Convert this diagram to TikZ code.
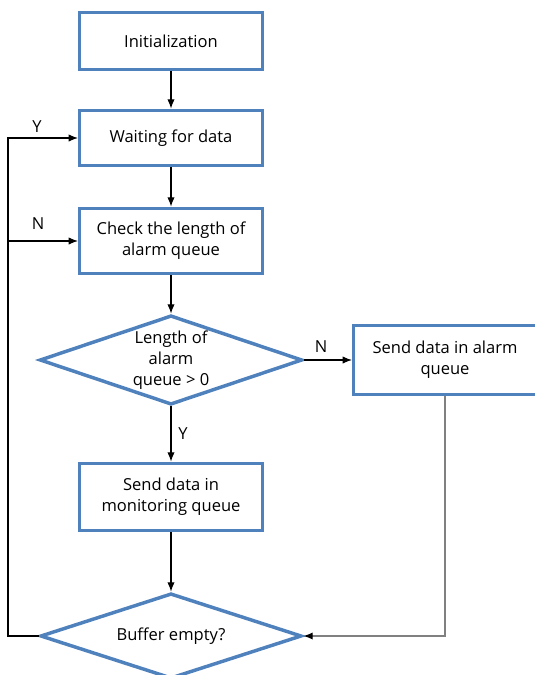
\documentclass[tikz,border=0pt]{standalone}
\usepackage{fontspec}
\setmainfont{Open Sans}
\usetikzlibrary{shapes.geometric,arrows.meta}
\definecolor{boxblue}{RGB}{79,129,189}
\definecolor{linegray}{RGB}{128,128,128}

\begin{document}
\begin{tikzpicture}[x=0.75pt, y=-0.75pt,
  every node/.style={font=\fontsize{12.4}{15.7}\selectfont, align=center},
  proc/.style={rectangle, draw=boxblue, line width=2.6pt, minimum width=137pt},
  decide/.style={diamond, draw=boxblue, line width=2.6pt, aspect=2.9, inner sep=0pt},
  flow/.style={line width=0.8pt, -{Latex[length=7pt,width=5.5pt]}}]
\useasboundingbox (0,0) rectangle (535,675);
% --- Main column ---
\node[proc, minimum height=43pt] (init) at (171,41) {Initialization};
\node[proc, minimum height=41.5pt] (wait) at (171,138) {Waiting for data};
\node[proc, minimum height=49pt] (check) at (171,241) {Check the length of\\alarm queue};
\node[decide, minimum width=197pt, minimum height=67pt] (len) at (171,360) {Length of\\alarm\\queue > 0};
\node[proc, minimum height=50.5pt] (mon) at (171,497) {Send data in\\monitoring queue};
\node[decide, minimum width=196pt, minimum height=64pt] (buf) at (171,636) {Buffer empty?};
% --- Side box ---
\node[proc, minimum height=52pt] (alarm) at (445,360) {Send data in alarm\\queue};
% --- Loop corners ---
\coordinate (lp1) at (8,636);
\coordinate (lp2) at (8,138);
\coordinate (lp3) at (8,241);
\coordinate (rp) at (445,636);
%
% --- Edges ---
\draw[flow] (init) -- (wait);
\draw[flow] (wait) -- (check);
\draw[flow] (check) -- (len);
\draw[flow] (len) -- (mon);
\draw[flow] (mon) -- (buf);
\draw[flow] (len) -- (alarm);
\draw[flow, draw=linegray, line width=1.1pt, -{Latex[length=7pt,width=5.5pt,color=black]}] (alarm) -- (rp) -- (buf.east);
\draw[flow] (buf.west) -- (lp1) -- (lp2) -- (wait.west); % Y
\draw[flow] (lp3) -- (check.west); % N
% --- Labels ---
\node (y1) at (37,127) {Y};
\node (n1) at (38,224) {N};
\node (n2) at (321,347) {N};
\node (y2) at (183,434) {Y};
%
\end{tikzpicture}
\end{document}
